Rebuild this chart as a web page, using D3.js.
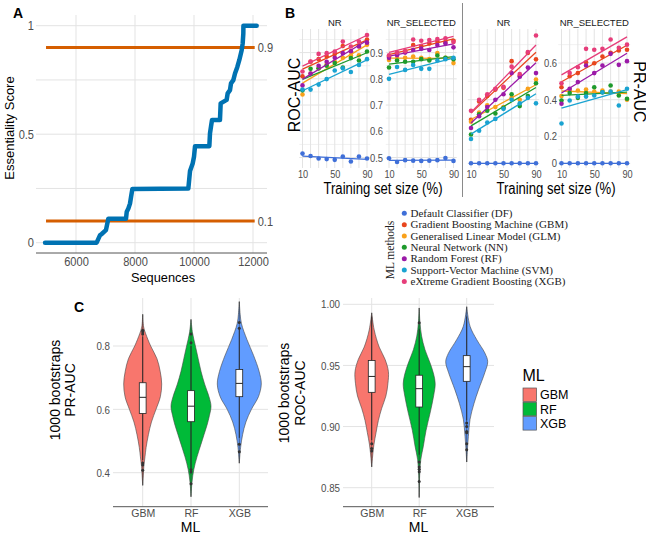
<!DOCTYPE html>
<html><head><meta charset="utf-8">
<script src="https://cdn.jsdelivr.net/npm/d3@7"></script>
<style>body{margin:0;background:#fff}svg{display:block}text{font-family:"Liberation Sans",Arial,sans-serif}</style>
</head><body><svg id="c" width="646" height="533"></svg>
<script>
// ---------------- Panel A data ----------------
const seqA   = [4950, 6700, 6815, 6870, 7015, 7095, 7695, 7720, 7775, 7830, 7865, 7910, 9808, 9865, 9955, 10000, 10035, 10520, 10542, 10576, 10610, 10880, 10904, 11107, 11141, 11220, 11254, 11333, 11390, 11469, 11537, 11616, 11650, 11672, 11675, 12125];
const scoreA = [0, 0, 0.035, 0.04, 0.058, 0.11, 0.11, 0.143, 0.158, 0.18, 0.21, 0.247, 0.25, 0.33, 0.365, 0.396, 0.445, 0.445, 0.504, 0.535, 0.565, 0.565, 0.642, 0.658, 0.688, 0.703, 0.734, 0.749, 0.78, 0.81, 0.842, 0.887, 0.918, 0.964, 1.0, 1.0];
const thresholdsA = [0.9, 0.1];
const thresholdLabelsA = ["0.9", "0.1"];
const xTicksA = [6000, 8000, 10000, 12000];
const yTicksA = [0, 0.5, 1];
const yGridA = [0, 0.25, 0.5, 0.75, 1];

// ---------------- Panel B data ----------------
const trainSizes = [10, 20, 30, 40, 50, 60, 70, 80, 90];
const trainTicks = [10, 50, 90];
const methodCodes = ["DF", "GBM", "GLM", "NN", "RF", "SVM", "XGB"];
const methodNames = ["Default Classifier (DF)", "Gradient Boosting Machine (GBM)", "Generalised Linear Model (GLM)", "Neural Network (NN)", "Random Forest (RF)", "Support-Vector Machine (SVM)", "eXtreme Gradient Boosting (XGB)"];
const methodColors = ["#3F6FD8", "#E8461E", "#F9A11B", "#1E9A2C", "#9B1AA8", "#1AA3D1", "#E63D7A"];
const facetTitles = ["NR", "NR_SELECTED", "NR", "NR_SELECTED"];
// ROC-AUC, NR
const rocNR = [
  [0.515, 0.506, 0.496, 0.494, 0.491, 0.504, 0.485, 0.504, 0.496],
  [0.81, 0.865, 0.875, 0.885, 0.895, 0.925, 0.905, 0.925, 0.95],
  [0.74, 0.82, 0.84, 0.855, 0.865, 0.88, 0.89, 0.89, 0.93],
  [0.756, 0.838, 0.84, 0.85, 0.86, 0.843, 0.879, 0.87, 0.904],
  [0.775, 0.82, 0.85, 0.865, 0.88, 0.898, 0.905, 0.923, 0.938],
  [0.759, 0.759, 0.778, 0.799, 0.832, 0.84, 0.826, 0.853, 0.875],
  [0.828, 0.866, 0.895, 0.898, 0.904, 0.942, 0.923, 0.942, 0.967]
];
// ROC-AUC, NR_SELECTED
const rocNRSel = [
  [0.497, 0.483, 0.49, 0.488, 0.487, 0.488, 0.49, 0.498, 0.487],
  [0.885, 0.895, 0.905, 0.929, 0.925, 0.935, 0.942, 0.94, 0.945],
  [0.872, 0.876, 0.88, 0.885, 0.88, 0.875, 0.898, 0.88, 0.86],
  [0.843, 0.87, 0.865, 0.865, 0.875, 0.87, 0.889, 0.88, 0.875],
  [0.88, 0.89, 0.9, 0.91, 0.915, 0.91, 0.929, 0.935, 0.92],
  [0.80, 0.845, 0.834, 0.853, 0.838, 0.838, 0.87, 0.875, 0.88],
  [0.89, 0.9, 0.905, 0.95, 0.945, 0.948, 0.952, 0.955, 0.94]
];
// PR-AUC, NR
const prNR = [
  [0, 0, 0, 0, 0, 0, 0, 0, 0],
  [0.29, 0.39, 0.42, 0.455, 0.465, 0.61, 0.53, 0.655, 0.62],
  [0.28, 0.33, 0.37, 0.36, 0.36, 0.41, 0.40, 0.46, 0.51],
  [0.21, 0.32, 0.34, 0.325, 0.355, 0.43, 0.365, 0.42, 0.49],
  [0.245, 0.31, 0.36, 0.40, 0.43, 0.545, 0.525, 0.575, 0.545],
  [0.18, 0.23, 0.275, 0.295, 0.35, 0.40, 0.38, 0.41, 0.38],
  [0.34, 0.40, 0.43, 0.46, 0.47, 0.58, 0.54, 0.66, 0.75]
];
// PR-AUC, NR_SELECTED
const prNRSel = [
  [0, 0, 0, 0, 0, 0, 0, 0, 0],
  [0.468, 0.528, 0.545, 0.604, 0.599, 0.635, 0.656, 0.668, 0.672],
  [0.42, 0.45, 0.45, 0.455, 0.445, 0.45, 0.445, 0.445, 0.40],
  [0.396, 0.436, 0.41, 0.436, 0.468, 0.44, 0.477, 0.423, 0.405],
  [0.378, 0.46, 0.496, 0.586, 0.545, 0.586, 0.65, 0.59, 0.61],
  [0.27, 0.396, 0.417, 0.417, 0.423, 0.44, 0.445, 0.368, 0.46],
  [0.49, 0.545, 0.577, 0.677, 0.672, 0.677, 0.728, 0.683, 0.70]
];
const rocTicks = [0.5, 0.6, 0.7, 0.8, 0.9];
const rocMinor = [0.55, 0.65, 0.75, 0.85, 0.95];
const prTicks = [0, 0.2, 0.4, 0.6];
const prMinor = [0.1, 0.3, 0.5, 0.7];

// ---------------- Panel C data ----------------
const mlGroups = ["GBM", "RF", "XGB"];
const mlColors = ["#F8766D", "#00BA38", "#619CFF"];
// violin density profiles (value, relative density) for PR-AUC
const prViolinVals = [
  [0.90, 0.86, 0.84, 0.80, 0.76, 0.72, 0.68, 0.64, 0.60, 0.56, 0.52, 0.48, 0.45, 0.42, 0.39, 0.36],
  [0.884, 0.84, 0.80, 0.76, 0.72, 0.68, 0.64, 0.61, 0.58, 0.55, 0.52, 0.49, 0.45, 0.41, 0.37, 0.324],
  [0.94, 0.90, 0.87, 0.82, 0.77, 0.72, 0.68, 0.64, 0.60, 0.56, 0.52, 0.48, 0.43]
];
const prViolinDens = [
  [0, 0.05, 0.15, 0.42, 0.75, 0.92, 1.0, 0.93, 0.7, 0.46, 0.3, 0.18, 0.12, 0.06, 0.03, 0],
  [0, 0.08, 0.22, 0.36, 0.5, 0.68, 0.9, 1.0, 0.92, 0.8, 0.65, 0.5, 0.3, 0.14, 0.05, 0],
  [0, 0.04, 0.1, 0.35, 0.65, 0.9, 1.0, 0.87, 0.55, 0.3, 0.15, 0.06, 0]
];
const prViolinMax = [19, 20, 22];
// box stats: [lower whisker, q1, median, q3, upper whisker]
const prBox = [[0.44, 0.587, 0.638, 0.684, 0.83], [0.415, 0.561, 0.61, 0.659, 0.80], [0.51, 0.64, 0.682, 0.726, 0.855]];
const prOutliers = [[0.85, 0.845, 0.838, 0.431, 0.424, 0.408], [0.838, 0.81, 0.41, 0.402, 0.365], [0.874, 0.856, 0.49, 0.466]];
const prTicksC = [0.4, 0.6, 0.8];
// ROC-AUC
const rocViolinVals = [
  [0.993, 0.979, 0.965, 0.955, 0.945, 0.935, 0.925, 0.915, 0.905, 0.895, 0.885, 0.875, 0.867],
  [0.997, 0.985, 0.974, 0.963, 0.952, 0.943, 0.935, 0.925, 0.911, 0.897, 0.884, 0.873, 0.86, 0.842],
  [0.998, 0.982, 0.971, 0.96, 0.953, 0.944, 0.93, 0.919, 0.906, 0.892, 0.88, 0.871]
];
const rocViolinDens = [
  [0, 0.15, 0.45, 0.8, 1.0, 0.97, 0.85, 0.6, 0.4, 0.26, 0.13, 0.05, 0],
  [0, 0.05, 0.15, 0.36, 0.68, 0.9, 1.0, 0.9, 0.68, 0.43, 0.26, 0.1, 0.03, 0],
  [0, 0.16, 0.48, 0.87, 1.0, 0.86, 0.56, 0.35, 0.16, 0.08, 0.03, 0]
];
const rocViolinMax = [16.7, 16, 21];
const rocBox = [[0.889, 0.928, 0.941, 0.954, 0.99], [0.877, 0.916, 0.931, 0.942, 0.98], [0.905, 0.937, 0.949, 0.958, 0.99]];
const rocOutliers = [[0.886, 0.882, 0.880], [0.985, 0.871, 0.867, 0.865, 0.863, 0.855], [0.903, 0.900, 0.896, 0.895, 0.886, 0.881]];
const rocTicksC = [0.85, 0.90, 0.95, 1.00];

// ---------------- helpers ----------------
const svg = d3.select("#c");
const GRID = "#e3e3e3", GRIDMINOR = "#f1f1f1", TICK = "#4d4d4d";

function label(g, x, y, s, o = {}) {
  let tr = `translate(${x},${y})`;
  if (o.rot) tr += ` rotate(${o.rot})`;
  if (o.sx) tr += ` scale(${o.sx},1)`;
  const t = g.append("text").attr("transform", tr)
    .attr("text-anchor", o.anchor || "start")
    .attr("font-size", o.size || 12)
    .attr("fill", o.fill || "#000").text(s);
  if (o.weight) t.attr("font-weight", o.weight);
  if (o.family) t.style("font-family", o.family);
  return t;
}
function styleAxis(sel, size, sx) {
  sel.attr("font-family", null).attr("font-size", null);
  sel.select(".domain").remove();
  sel.selectAll(".tick line").remove();
  sel.selectAll(".tick text").attr("font-size", size).attr("fill", TICK)
    .attr("transform", `scale(${sx},1)`);
}
function hline(g, y, x0, x1, c, w) {
  g.append("line").attr("x1", x0).attr("x2", x1).attr("y1", y).attr("y2", y).attr("stroke", c).attr("stroke-width", w || 1);
}
function vline(g, x, y0, y1, c, w) {
  g.append("line").attr("x1", x).attr("x2", x).attr("y1", y0).attr("y2", y1).attr("stroke", c).attr("stroke-width", w || 1);
}

// ---------------- Panel A ----------------
{
  const g = svg.append("g");
  const x = d3.scaleLinear().domain([6000, 12000]).range([76, 253]);
  const y = d3.scaleLinear().domain([0, 1]).range([242.7, 25.7]);
  const L = 36, R = 267, T = 15, B = 253;
  yGridA.forEach(v => hline(g, y(v), L, R, GRID, 1));
  xTicksA.forEach(v => vline(g, x(v), T, B, GRID, 1));
  hline(g, B, L, R, "#555", 1);
  const ext = d3.extent(seqA);
  thresholdsA.forEach((t, i) => {
    g.append("line").attr("x1", x(ext[0]) + 1).attr("x2", x(ext[1]) - 2)
      .attr("y1", y(t)).attr("y2", y(t)).attr("stroke", "#D55E00").attr("stroke-width", 3);
    label(g, x(ext[1]) + 1, y(t) + 4.5, thresholdLabelsA[i], {size: 13, fill: TICK, sx: 0.85});
  });
  const pts = seqA.map((s, i) => [s, scoreA[i]]);
  g.append("path").datum(pts)
    .attr("d", d3.line().x(d => x(d[0])).y(d => y(d[1])))
    .attr("fill", "none").attr("stroke", "#0072B2").attr("stroke-width", 4.5)
    .attr("stroke-linejoin", "round").attr("stroke-linecap", "round");
  const ax = g.append("g").attr("transform", `translate(0,${B})`)
    .call(d3.axisBottom(x).tickValues(xTicksA).tickSize(0).tickPadding(4).tickFormat(d3.format("d")));
  styleAxis(ax, 13, 0.85);
  const ay = g.append("g").attr("transform", `translate(34,0)`)
    .call(d3.axisLeft(y).tickValues(yTicksA).tickSize(0).tickPadding(0).tickFormat(d => d === 0.5 ? "0.5" : String(d)));
  styleAxis(ay, 13, 0.85);
  label(g, 163, 281.5, "Sequences", {size: 13.5, anchor: "middle", sx: 0.95});
  label(g, 14, 128, "Essentiality Score", {size: 13, anchor: "middle", rot: -90});
  label(g, 13, 17.5, "A", {size: 14, weight: "bold"});
}

// ---------------- Panel B ----------------
{
  const g = svg.append("g");
  const T = 29, B = 168;
  const yROC = d3.scaleLinear().domain([0.46, 0.99]).range([B, T]);
  const yPR = d3.scaleLinear().domain([0, 0.2, 0.4, 0.6, 0.8]).range([163.3, 136.3, 99.7, 63, 26.3]);
  const panels = [
    {data: rocNR, r: [302.5, 367], y: yROC, major: rocTicks, minor: rocMinor},
    {data: rocNRSel, r: [389, 453.5], y: yROC, major: rocTicks, minor: rocMinor},
    {data: prNR, r: [471, 536], y: yPR, major: prTicks, minor: prMinor},
    {data: prNRSel, r: [561.5, 627], y: yPR, major: prTicks, minor: prMinor}
  ];
  panels.forEach((p, pi) => {
    const x = d3.scaleLinear().domain([10, 90]).range(p.r);
    const L = x(6), R = x(94);
    p.minor.forEach(v => hline(g, p.y(v), L, R, GRIDMINOR, 1));
    p.major.forEach(v => hline(g, p.y(v), L, R, GRID, 1));
    trainSizes.forEach(v => vline(g, x(v), T, B, GRID, 1));
    p.data.forEach((vals, mi) => {
      const col = methodColors[mi];
      // least-squares fit (geom_smooth, method = "lm")
      const mx = d3.mean(trainSizes), my = d3.mean(vals);
      const sxy = d3.sum(trainSizes, (t, i) => (t - mx) * (vals[i] - my));
      const sxx = d3.sum(trainSizes, t => (t - mx) * (t - mx));
      const b = sxy / sxx, a = my - b * mx;
      g.selectAll(null).data(vals).enter().append("circle")
        .attr("cx", (d, i) => x(trainSizes[i])).attr("cy", d => p.y(d))
        .attr("r", 2.3).attr("fill", col);
      g.append("line").attr("x1", x(10)).attr("x2", x(90))
        .attr("y1", p.y(a + b * 10)).attr("y2", p.y(a + b * 90))
        .attr("stroke", col).attr("stroke-width", 1.3);
    });
    const ax = g.append("g").attr("transform", `translate(0,${B})`)
      .call(d3.axisBottom(x).tickValues(trainTicks).tickSize(0).tickPadding(2.2));
    styleAxis(ax, 11.5, 0.8);
    label(g, (p.r[0] + p.r[1]) / 2, 26.3, facetTitles[pi], {size: 9.5, anchor: "middle", fill: "#1a1a1a"});
  });
  const aR = g.append("g").attr("transform", "translate(383,0)")
    .call(d3.axisLeft(yROC).tickValues(rocTicks).tickSize(0).tickPadding(0).tickFormat(d3.format(".1f")));
  styleAxis(aR, 11.5, 0.82);
  const aP = g.append("g").attr("transform", "translate(557,0)")
    .call(d3.axisLeft(yPR).tickValues(prTicks).tickSize(0).tickPadding(0).tickFormat(d => d === 0 ? "0" : d3.format(".1f")(d)));
  styleAxis(aP, 11.5, 0.82);
  label(g, 383, 193.5, "Training set size (%)", {size: 16, anchor: "middle", sx: 0.82});
  label(g, 556, 193.5, "Training set size (%)", {size: 16, anchor: "middle", sx: 0.82});
  label(g, 299.5, 95, "ROC-AUC", {size: 16, anchor: "middle", rot: -90});
  label(g, 633.5, 92, "PR-AUC", {size: 16, anchor: "middle", rot: 90});
  vline(g, 462.5, 3, 197, "#8a8a8a", 1);
  label(g, 285, 17.5, "B", {size: 14, weight: "bold"});

  // legend
  const lg = svg.append("g");
  methodNames.forEach((n, i) => {
    const yy = 213.3 + i * 11.35;
    lg.append("circle").attr("cx", 404.3).attr("cy", yy).attr("r", 2.5).attr("fill", methodColors[i]);
    label(lg, 410.5, yy + 3.7, n, {size: 11, family: "'Liberation Serif', 'Times New Roman', serif", fill: "#222"});
  });
  label(lg, 393.5, 250, "ML methods", {size: 11.5, anchor: "middle", rot: -90, family: "'Liberation Serif', 'Times New Roman', serif", fill: "#222"});
}

// ---------------- Panel C ----------------
function violinPanel(cfg) {
  const g = svg.append("g");
  const x = d3.scalePoint().domain(mlGroups).range(cfg.xr);
  const y = d3.scaleLinear().domain(cfg.yd).range(cfg.yr);
  const T = 298, B = 506.7;
  cfg.ticks.forEach(v => hline(g, y(v), cfg.L, cfg.R, GRID, 1));
  mlGroups.forEach(m => vline(g, x(m), T, B, GRID, 1));
  hline(g, B, cfg.L, cfg.R, "#555", 1);
  mlGroups.forEach((m, i) => {
    const cx = x(m), w = cfg.maxW[i];
    const pts = cfg.vals[i].map((v, j) => [v, cfg.dens[i][j]]);
    g.append("path").datum(pts)
      .attr("d", d3.area().curve(d3.curveCatmullRom).y(d => y(d[0]))
        .x0(d => cx - d[1] * w).x1(d => cx + d[1] * w))
      .attr("fill", mlColors[i]).attr("stroke", "#444").attr("stroke-width", 0.6);
    const [lo, q1, md, q3, hi] = cfg.box[i];
    vline(g, cx, y(cfg.vals[i][0]), y(cfg.vals[i][cfg.vals[i].length - 1]), "#333", 0.6);
    vline(g, cx, y(hi), y(q3), "#222", 0.8);
    vline(g, cx, y(q1), y(lo), "#222", 0.8);
    g.append("rect").attr("x", cx - 3.4).attr("width", 6.8).attr("y", y(q3)).attr("height", y(q1) - y(q3))
      .attr("fill", "#fff").attr("stroke", "#222").attr("stroke-width", 0.8);
    hline(g, y(md), cx - 3.4, cx + 3.4, "#222", 1);
    g.selectAll(null).data(cfg.out[i]).enter().append("circle")
      .attr("cx", cx).attr("cy", d => y(d)).attr("r", 1.5).attr("fill", "#333");
  });
  const ax = g.append("g").attr("transform", `translate(0,${B})`)
    .call(d3.axisBottom(x).tickSize(0).tickPadding(2.5));
  styleAxis(ax, 11.5, 0.92);
  const ay = g.append("g").attr("transform", `translate(${cfg.L - 3},0)`)
    .call(d3.axisLeft(y).tickValues(cfg.ticks).tickSize(0).tickPadding(0).tickFormat(d3.format(cfg.fmt)));
  styleAxis(ay, 11.5, 0.85);
  label(g, (cfg.L + cfg.R) / 2, 531.5, "ML", {size: 14, anchor: "middle"});
  label(g, cfg.t1x, cfg.ty, "1000 bootstraps", {size: 14, anchor: "middle", rot: -90});
  label(g, cfg.t2x, cfg.ty, cfg.title, {size: 14, anchor: "middle", rot: -90});
}
violinPanel({xr: [142.7, 239.3], yd: [0.4, 0.8], yr: [472.7, 346], L: 113, R: 268, ticks: prTicksC, fmt: ".1f",
  vals: prViolinVals, dens: prViolinDens, maxW: prViolinMax, box: prBox, out: prOutliers,
  t1x: 60, t2x: 75, ty: 390, title: "PR-AUC"});
violinPanel({xr: [371.7, 466.7], yd: [0.85, 1.0], yr: [487.7, 304.3], L: 343, R: 494, ticks: rocTicksC, fmt: ".2f",
  vals: rocViolinVals, dens: rocViolinDens, maxW: rocViolinMax, box: rocBox, out: rocOutliers,
  t1x: 288.5, t2x: 305, ty: 393, title: "ROC-AUC"});
label(svg, 74, 312, "C", {size: 14, weight: "bold"});

// ML legend
{
  const g = svg.append("g");
  label(g, 522.5, 381, "ML", {size: 16});
  mlGroups.forEach((m, i) => {
    const yy = 388 + i * 14.3;
    g.append("rect").attr("x", 523).attr("y", yy).attr("width", 13.5).attr("height", 13.5)
      .attr("fill", mlColors[i]).attr("stroke", "#555").attr("stroke-width", 0.7);
    label(g, 540, yy + 11.2, m, {size: 12.5});
  });
}
</script>
</body></html>
